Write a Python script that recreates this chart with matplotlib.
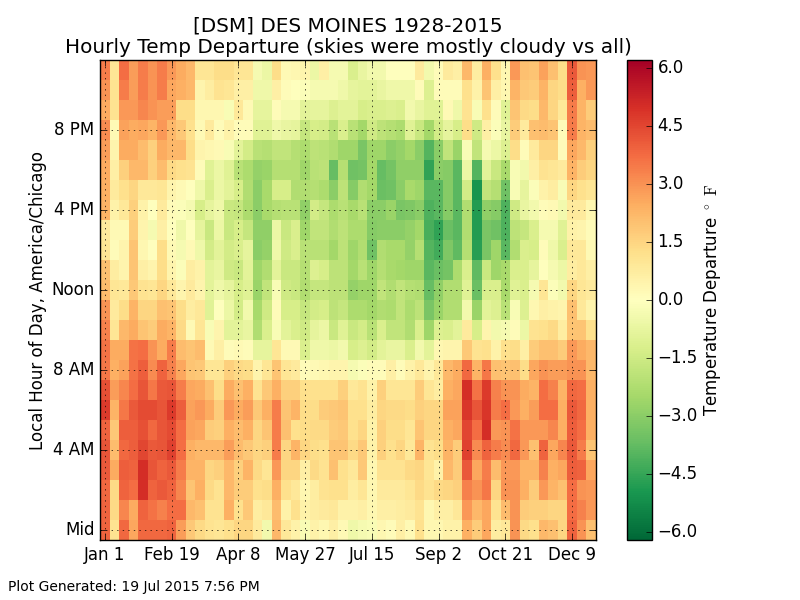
import matplotlib
matplotlib.use("Agg")
import matplotlib.pyplot as plt
import numpy as np

plt.style.use("classic")

h23 = [3.4,1.0,3.7,2.8,3.4,3.0,3.4,2.9,2.5,2.2,1.0,1.0,1.3,1.3,1.0,1.0,-0.3,-0.6,1.3,0.2,0.3,0.4,-0.6,0.6,-0.3,-0.3,-1.2,-0.7,-0.4,-0.4,0,0,0,0.8,-0.4,0.1,0.8,0.6,2.2,0.7,2.4,1.2,0.3,2.9,2.0,1.9,2.7,2.0,1.3,4.1,3.0,2.9]
h22 = [3.0,1.1,3.4,2.8,3.4,3.0,3.4,2.6,2.4,2.2,0.4,0.7,1.1,1.0,0.6,0.6,-0.5,-0.5,0.6,0.1,0,-0.1,-0.3,-0.3,-0.3,-0.5,-0.8,-0.9,-0.9,-0.7,-0.5,-0.5,-0.5,0.1,-1.1,0.1,0.1,0.1,1.2,0.5,1.9,0.6,0.3,2.3,1.8,1.7,2.3,1.5,1.3,4.0,2.4,2.9]
h21 = [2.5,1.1,2.9,2.9,3.2,3.0,2.8,2.8,1.3,1.3,0.3,0.3,0.3,-0.2,0.9,0.2,-0.8,-0.8,0.1,-0.3,-0.3,-0.9,-0.8,-0.8,-1.1,-0.9,-0.9,-1.3,-1.2,-1.2,-1.1,-1.2,-0.4,-0.7,-1.0,-1.0,0.2,-0.5,1.1,-0.2,1.2,0.1,-1.0,1.9,1.4,1.3,2.2,1.5,0.9,3.4,2.3,1.7]
h20 = [3.1,0.2,2.7,2.5,2.6,2.3,2.9,2.2,1.8,1.2,0.2,0.8,0.1,0.5,0.1,0.1,-1.0,-1.0,-0.5,-0.7,-0.8,-1.7,-1.3,-1.4,-2.0,-1.2,-2.0,-2.5,-1.5,-1.9,-2.1,-2.3,-1.0,-1.6,-2.5,-1.4,-0.8,-1.3,1.3,-1.5,0.6,-0.1,-0.7,1.7,0.8,2.0,2.1,1.9,0.1,3.4,2.3,2.1]
h19 = [2.8,0.4,2.5,2.5,2.1,1.6,2.5,2.2,2.2,1.3,0.4,0.3,0.2,-0.2,-0.9,-1.4,-2.0,-2.1,-1.8,-1.8,-2.1,-2.3,-1.9,-2.0,-2.2,-2.6,-2.6,-3.3,-2.6,-2.6,-3.0,-2.8,-2.5,-3.0,-4.0,-3.0,-1.8,-2.7,-0.2,-1.8,-0.3,-0.6,-1.1,1.3,0.1,0.8,1.5,1.5,0.1,2.6,2.2,1.6]
h18 = [2.5,0.6,1.6,2.2,2.2,1.6,2.1,1.4,1.2,1.1,0.1,-1.0,-0.6,-1.0,-2.0,-2.3,-2.8,-2.7,-2.1,-2.1,-2.1,-2.6,-2.0,-1.9,-3.7,-2.1,-3.5,-3.4,-2.5,-3.7,-3.4,-2.9,-2.9,-2.9,-4.6,-3.0,-3.1,-3.9,-0.6,-4.0,-0.9,-1.6,-2.4,-0.2,-0.4,0.6,1.1,1.0,0.8,2.3,1.7,1.5]
h17 = [2.4,0.8,1.2,1.5,0.9,0.9,1.0,0.4,0.2,0.0,-0.5,-1.2,-0.6,-0.9,-1.3,-2.2,-3.0,-2.4,-1.3,-1.3,-2.2,-2.2,-2.1,-2.3,-3.0,-1.9,-3.1,-2.2,-2.5,-3.6,-3.5,-3.0,-2.4,-2.6,-3.9,-3.9,-3.1,-3.9,-1.4,-5.0,-1.8,-2.1,-3.5,-0.2,-0.8,-0.1,0.5,0.7,-0.2,1.5,1.2,1.0]
h16 = [2.3,0.5,0.9,1.6,0.5,0.0,0.8,0.1,-0.1,-0.3,-1.3,-0.8,-0.5,-1.6,-1.7,-2.3,-3.0,-2.4,-2.1,-2.0,-2.0,-2.9,-1.4,-1.7,-2.3,-2.0,-2.4,-2.0,-3.0,-3.0,-2.7,-3.3,-3.2,-3.0,-4.1,-3.9,-3.1,-3.9,-2.2,-4.8,-2.9,-3.1,-4.1,-1.5,-0.7,-0.4,0.1,0.2,-0.4,0.8,0.8,0.3]
h15 = [0.8,0.2,0.2,1.7,0.4,-0.3,0.6,0,-0.5,0,-0.8,-1.6,-0.6,-1.6,-1.3,-1.7,-2.9,-2.9,-0.6,-1.6,-1.2,-2.6,-1.8,-1.8,-2.2,-1.9,-2.3,-2.3,-3.1,-3.0,-3.0,-3.0,-2.8,-2.5,-4.2,-4.6,-3.6,-3.9,-2.2,-4.8,-3.3,-3.5,-4.1,-1.9,-1.7,-1.2,-0.3,-0.3,-1.0,0.5,0.4,0.1]
h14 = [1.0,0.1,0.4,1.9,0.3,0,1.3,0.2,-0.3,0.2,-0.5,-1.4,-0.9,-1.4,-1.2,-0.8,-3.0,-2.8,-0.5,-1.5,-1.2,-2.0,-2.0,-2.0,-2.5,-1.9,-2.6,-2.2,-3.5,-2.2,-2.4,-2.4,-2.8,-2.1,-4.0,-4.3,-3.2,-3.8,-2.1,-4.7,-3.3,-2.6,-3.9,-2.2,-1.2,-1.3,0.1,-0.5,-1.2,0.9,0.9,0.2]
h13 = [2.0,0.7,0.4,1.9,0.6,0.4,1.3,0.4,-0.1,0.7,0.5,-0.9,-0.7,-1.5,-1.6,-0.9,-2.6,-2.2,-0.9,-1.6,-1.6,-2.1,-1.1,-1.3,-1.9,-1.9,-2.5,-2.0,-2.6,-2.1,-2.4,-2.5,-2.6,-2.6,-3.9,-3.6,-3.4,-2.3,-1.2,-3.8,-1.6,-2.6,-2.4,-1.2,-1.2,-0.8,0.0,-0.3,-0.6,0.7,0.9,0.6]
h12 = [2.1,1.0,0.9,1.8,1.1,1.0,1.5,0.9,0.4,0.8,0.4,-0.9,-0.5,-0.8,-1.3,-1.0,-2.7,-1.8,-0.2,-1.5,-1.6,-2.2,-1.7,-1.7,-1.9,-1.9,-2.8,-2.6,-2.6,-1.8,-2.2,-1.8,-2.1,-2.2,-3.7,-2.9,-2.2,-2.2,-1.0,-3.6,-1.2,-1.2,-2.4,-1.0,-1.2,-0.3,1.0,-0.1,-0.4,1.5,1.0,0.8]
h11 = [3.0,0.8,1.3,2.3,1.5,1.5,2.0,1.9,1.3,0.7,0.9,-1.0,0.0,-0.6,-1.4,-0.4,-2.4,-1.5,0.1,-1.3,-1.3,-1.7,-1.4,-1.3,-1.9,-1.7,-2.3,-2.3,-2.5,-2.2,-2.3,-1.8,-2.3,-1.9,-3.3,-2.7,-2.2,-2.2,-0.4,-2.7,-0.9,-1.1,-2.0,-0.2,-1.1,0.3,0.6,0.5,0.4,2.0,0.9,0.4]
h10 = [3.3,1.0,2.2,2.5,1.9,1.7,2.5,2.3,1.4,0.2,1.0,-0.2,0.4,-0.9,-0.9,-0.7,-2.2,-1.2,-0.2,-0.9,-1.2,-1.5,-0.8,-0.6,-1.6,-1.0,-1.6,-1.4,-2.0,-1.2,-1.8,-1.8,-2.2,-1.2,-2.6,-1.1,-1.2,-0.9,0.8,-1.3,0.4,-0.4,-0.3,0.1,-0.6,1.1,1.2,1.4,0.7,1.9,1.9,1.2]
h09 = [3.6,2.5,2.5,3.6,3.7,3.0,2.5,3.4,2.1,1.9,2.1,0.2,0.6,0.1,0.2,0.1,-0.8,-0.8,1.0,0.2,0.2,-1.2,-0.5,-0.5,-0.6,-0.4,-1.3,-1.1,-1.4,-0.9,-0.7,-0.7,-1.2,-0.4,-0.9,0.3,0.4,0.4,1.8,1.1,1.2,0.5,1.2,1.3,0.6,1.7,2.0,2.0,1.7,2.9,2.5,2.2]
h08 = [3.5,2.4,2.7,3.6,4.0,3.1,3.9,3.3,2.6,1.9,1.8,1.0,1.0,1.6,1.4,1.3,0.4,1.0,1.9,1.0,0.8,0.1,0.2,0.3,0.4,0.4,-0.3,-0.1,0.1,0.1,0.6,0.1,0.5,0.9,0.4,0.9,2.2,2.5,3.8,2.3,3.5,2.0,1.9,2.0,1.3,2.6,3.0,2.8,2.8,3.0,3.0,2.2]
h07 = [4.3,2.8,3.2,3.7,4.2,3.5,4.1,4.2,3.4,2.6,2.5,2.0,1.3,2.5,2.0,2.4,1.1,1.8,2.4,1.6,1.6,1.2,1.2,1.2,1.2,1.6,0.9,1.1,0.5,1.6,1.0,1.0,1.0,1.7,1.0,0.7,2.4,2.6,5.0,3.6,4.7,3.3,3.0,3.0,2.5,2.3,3.7,3.3,2.3,3.8,3.7,2.4]
h06 = [4.7,2.3,3.5,4.1,4.4,4.4,4.2,4.7,4.0,2.7,2.9,2.5,1.7,2.9,2.5,2.8,1.8,2.4,3.4,1.9,2.3,1.3,1.3,1.7,1.8,1.9,1.2,1.2,0.7,1.5,1.4,1.4,1.3,1.6,1.5,1.5,2.7,2.7,4.8,4.2,4.8,3.4,3.7,2.9,2.4,2.8,3.7,3.7,2.4,4.1,3.8,2.4]
h05 = [3.9,1.8,4.0,4.0,4.3,3.8,4.2,4.4,3.7,2.7,2.6,1.7,1.6,2.4,2.1,2.4,1.5,1.9,3.4,2.0,1.2,1.3,1.4,1.4,1.7,1.8,1.2,1.5,0.5,1.6,1.3,1.3,1.0,1.9,1.5,1.5,2.4,2.6,4.5,3.7,5.0,2.9,3.0,3.6,2.9,2.9,2.9,3.2,2.4,4.0,3.7,2.4]
h04 = [4.2,2.1,3.8,4.0,4.5,4.1,4.2,4.6,3.7,2.4,2.2,2.2,2.2,2.8,2.1,1.8,1.5,1.6,3.4,1.5,2.3,1.5,1.3,1.2,1.9,1.9,1.4,1.8,0.5,1.6,1.2,1.5,0.9,2.3,1.1,1.3,2.3,1.7,4.6,3.1,3.9,3.4,3.1,3.8,2.9,2.0,3.9,2.6,3.2,4.1,3.4,1.9]
h03 = [4.1,2.5,4.0,3.9,5.0,4.2,3.9,4.1,3.4,2.3,2.3,1.5,1.6,2.2,1.6,2.3,1.4,1.0,2.9,1.5,1.5,0.6,1.4,1.1,2.0,1.2,0.9,1.8,0.3,1.1,1.1,1.1,1.4,1.5,1.0,0.5,2.2,1.7,4.1,2.6,3.4,2.1,2.9,2.9,2.3,2.3,3.3,2.4,2.6,4.0,3.9,2.6]
h02 = [3.8,1.4,3.9,3.7,5.0,3.9,4.1,3.9,3.2,1.9,2.4,1.4,1.1,2.2,1.7,1.7,1.2,1.3,2.4,1.2,0.9,0.3,0.7,1.1,1.2,1.2,0.7,1.0,0.3,0.8,0.8,0.8,1.0,1.4,1.1,1.4,1.5,1.6,3.3,3.0,3.5,1.5,3.0,3.0,2.4,1.7,2.9,2.3,2.0,3.7,3.0,2.9]
h01 = [3.9,1.4,3.2,2.5,3.9,3.6,3.3,3.7,3.7,2.2,2.0,1.1,1.1,2.4,1.2,1.8,0.7,0.9,2.1,0.5,1.2,0.5,0.7,0.8,0.9,0.5,0.5,0.6,0.3,0.6,0.6,0.7,0.8,1.1,0.3,0.6,0.6,0.9,2.9,2.2,2.6,1.1,2.1,3.0,1.7,1.6,1.6,1.5,1.5,3.7,3.3,2.9]
h00 = [3.9,1.1,3.8,2.6,3.8,3.8,3.8,3.9,2.8,1.8,1.4,1.1,1.0,1.2,1.5,1.5,0.8,-0.4,2.2,0.9,0.5,-0.2,0.5,0.3,0.6,0.2,-0.5,-0.3,-0.2,0.3,0.1,0.6,0.2,1.2,0.3,0.3,0.5,0.5,2.4,1.7,2.6,0.7,0.9,3.0,1.4,1.2,2.2,2.0,1.5,3.9,3.0,2.0]

hours = [h00,h01,h02,h03,h04,h05,h06,h07,h08,h09,h10,h11,h12,h13,h14,h15,h16,h17,h18,h19,h20,h21,h22,h23]
x_labels = ["Jan 1","Feb 19","Apr 8","May 27","Jul 15","Sep 2","Oct 21","Dec 9"]
y_labels = ["Mid","4 AM","8 AM","Noon","4 PM","8 PM"]
cbar_ticks = [-6.0,-4.5,-3.0,-1.5,0.0,1.5,3.0,4.5,6.0]

fig = plt.figure(figsize=(8,6), dpi=100, facecolor="white")
ax = fig.add_axes([0.125,0.1,0.62,0.8])
data = np.array(hours)
im = ax.imshow(data, origin="lower", aspect="auto", interpolation="nearest",
               cmap="RdYlGn_r", vmin=-6.2, vmax=6.2)
ax.set_xticks(np.arange(len(x_labels))*7)
ax.set_xticklabels(x_labels)
ax.set_yticks(np.arange(len(y_labels))*4)
ax.set_yticklabels(y_labels)
ax.set_xlim(-0.5,51.5)
ax.set_ylim(-0.5,23.5)
ax.grid(True)
ax.set_ylabel("Local Hour of Day, America/Chicago", fontsize=12, labelpad=3)
ax.set_title("[DSM] DES MOINES 1928-2015\nHourly Temp Departure (skies were mostly cloudy vs all)", fontsize=14.4)
cax = fig.add_axes([627/800,0.1,25/800,0.8])
cb = fig.colorbar(im, cax=cax, ticks=cbar_ticks)
cb.set_label(r"Temperature Departure $^\circ\ \mathrm{F}$", fontsize=12, labelpad=3)
fig.text(0.01,0.0145,"Plot Generated: 19 Jul 2015 7:56 PM", fontsize=10)
fig.savefig("out.png", dpi=100)
